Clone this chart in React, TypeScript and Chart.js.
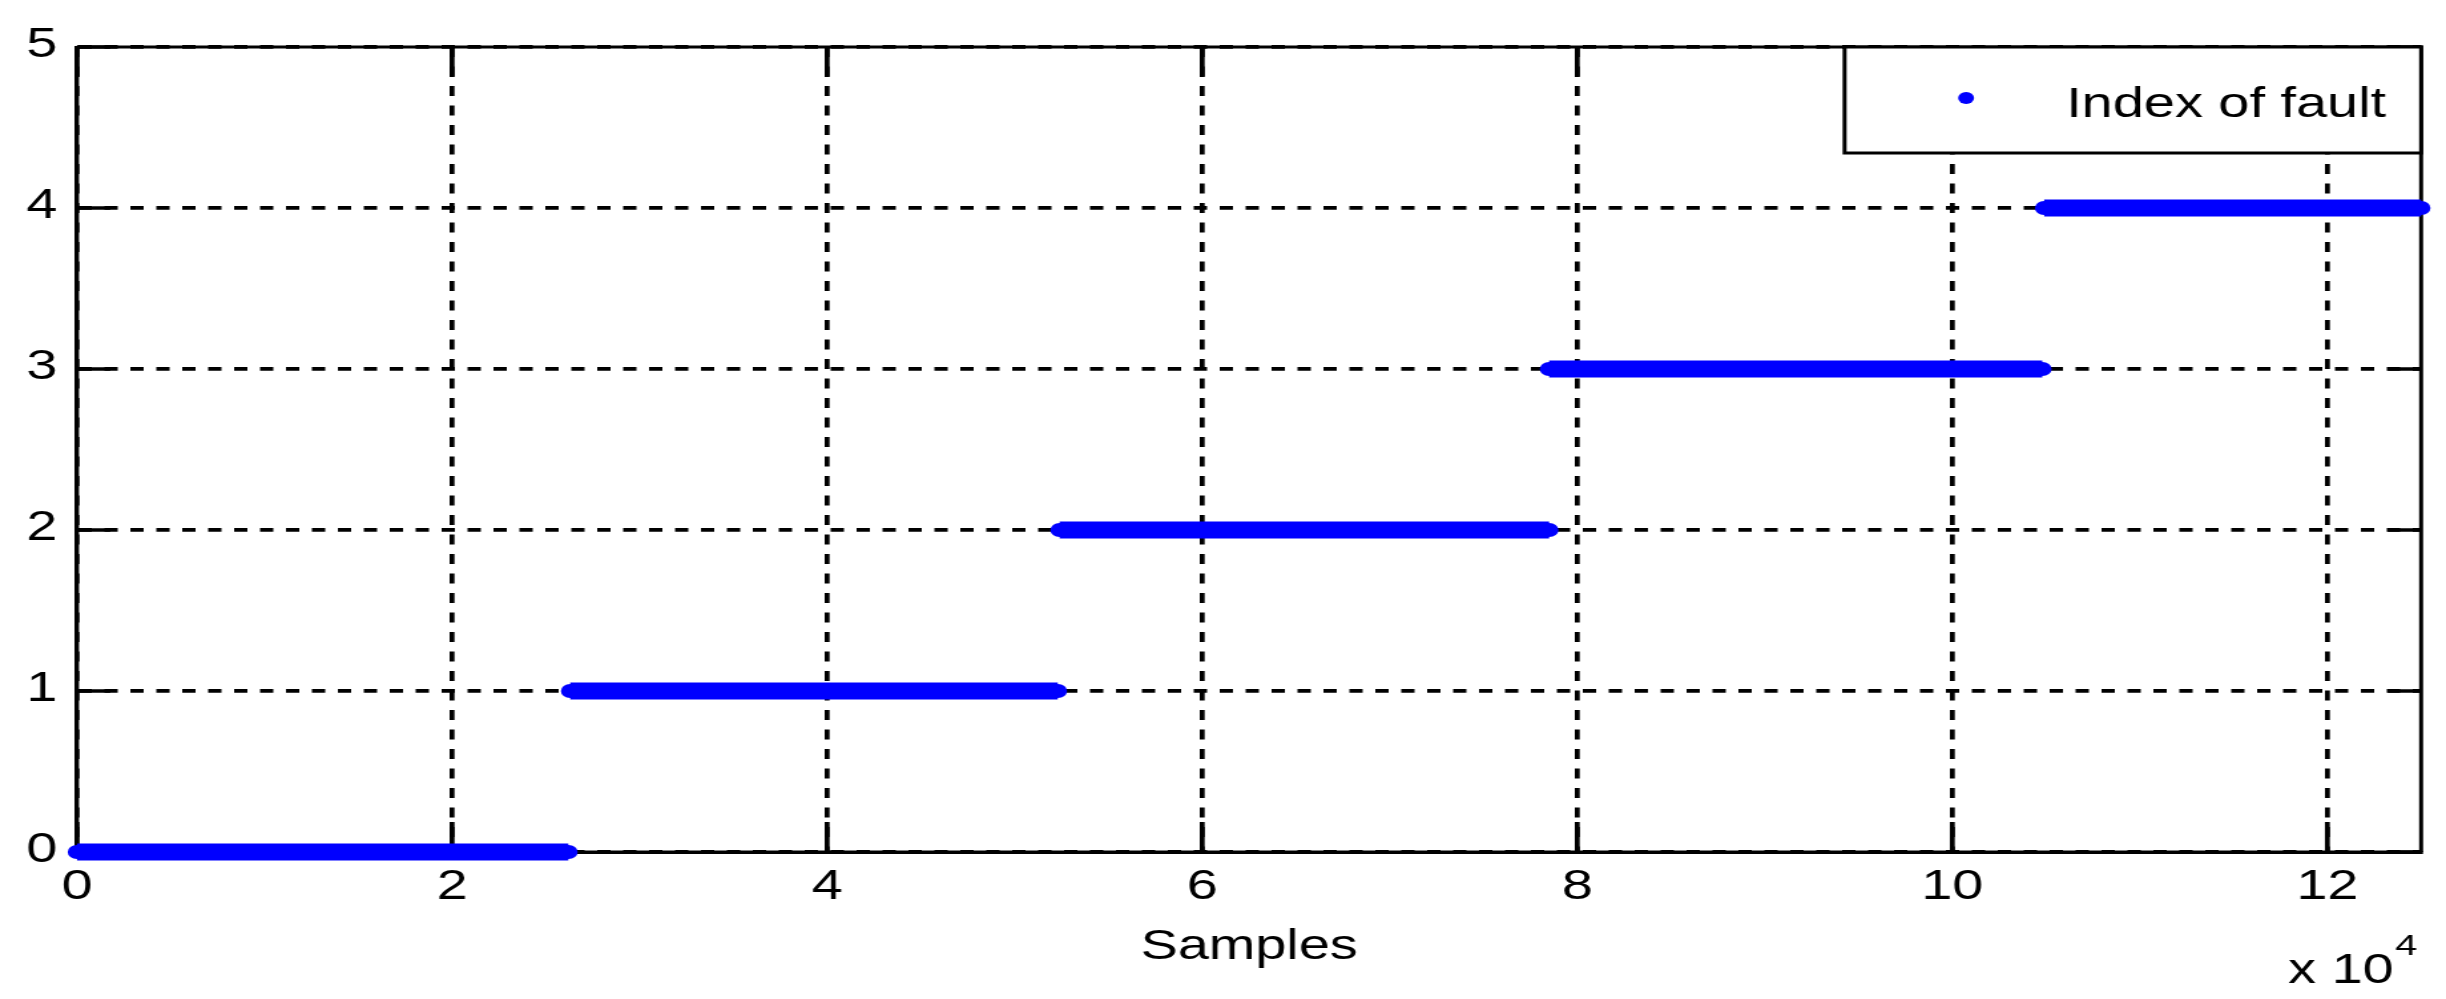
import React, { useEffect, useRef } from 'react';
import { Chart, registerables } from 'chart.js';

Chart.register(...registerables);

// ---- data ----
const faultLevels = [0, 1, 2, 3, 4];
const segmentStarts = [0, 26300, 52400, 78500, 104900];
const segmentEnds = [26200, 52300, 78500, 104800, 125000];
const xTickValues = [0, 20000, 40000, 60000, 80000, 100000, 120000];
const xTickLabels = ['0', '2', '4', '6', '8', '10', '12'];
const yTickValues = [0, 1, 2, 3, 4, 5];
const yTickLabels = ['0', '1', '2', '3', '4', '5'];
const seriesLabel = 'Index of fault';
const xTitle = 'Samples';
const xExponentBase = 'x 10';
const xExponent = '4';

// ---- geometry (canvas is drawn narrow and stretched horizontally, like the reference) ----
const FULL_W = 2446;
const FULL_H = 999;
const STRETCH = 1.33;
const W = Math.round(FULL_W / STRETCH);
const H = FULL_H;
const PLOT_LEFT = 77 / STRETCH;
const PLOT_RIGHT = 2421 / STRETCH;
const PLOT_TOP = 47;
const PLOT_BOTTOM = 852;
const FONT = '"Liberation Sans", Arial, Helvetica, sans-serif';
const BLUE = '#0000ff';
const DASH = [10, 9.5];

const framePlugin = {
  id: 'matlabFrame',
  beforeDatasetsDraw(chart: any) {
    const { ctx, chartArea: a, scales } = chart;
    ctx.save();
    ctx.strokeStyle = '#000';
    ctx.setLineDash([]);
    ctx.lineWidth = 3;
    ctx.beginPath();
    ctx.moveTo(a.left, a.top);
    ctx.lineTo(a.right, a.top);
    ctx.lineTo(a.right, a.bottom);
    ctx.stroke();
    // solid left / bottom axis lines (in case the border inherits the dash)
    ctx.beginPath();
    ctx.moveTo(a.left, a.top);
    ctx.lineTo(a.left, a.bottom);
    ctx.lineTo(a.right, a.bottom);
    ctx.stroke();
    ctx.lineWidth = 3.7;
    ctx.beginPath();
    for (const v of yTickValues) {
      const py = scales.y.getPixelForValue(v);
      ctx.moveTo(a.left, py);
      ctx.lineTo(a.left + 25, py);
      ctx.moveTo(a.right, py);
      ctx.lineTo(a.right - 25, py);
    }
    for (const v of xTickValues) {
      const px = scales.x.getPixelForValue(v);
      ctx.moveTo(px, a.bottom);
      ctx.lineTo(px, a.bottom - 30);
      ctx.moveTo(px, a.top);
      ctx.lineTo(px, a.top + 30);
    }
    ctx.stroke();
    ctx.restore();
  },
  afterDraw(chart: any) {
    const { ctx, chartArea: a } = chart;
    ctx.save();
    // legend box
    const lx = 1844.5 / STRETCH;
    const ly = a.top;
    const lb = 153;
    ctx.fillStyle = '#fff';
    ctx.fillRect(lx, ly, a.right - lx, lb - ly);
    ctx.strokeStyle = '#000';
    ctx.lineWidth = 3;
    ctx.setLineDash([]);
    ctx.strokeRect(lx, ly, a.right - lx, lb - ly);
    const ds = chart.data.datasets[0];
    ctx.fillStyle = ds.borderColor;
    ctx.beginPath();
    ctx.arc(1966 / STRETCH, 98, 6, 0, Math.PI * 2);
    ctx.fill();
    ctx.fillStyle = '#000';
    ctx.font = `42px ${FONT}`;
    ctx.textBaseline = 'alphabetic';
    ctx.textAlign = 'left';
    ctx.fillText(ds.label, 2066 / STRETCH, 117);
    // exponent label
    const ex = 2288 / STRETCH;
    ctx.fillText(xExponentBase, ex, 983);
    const wBase = ctx.measureText(xExponentBase).width;
    ctx.font = `30px ${FONT}`;
    ctx.fillText(xExponent, ex + wBase + 1, 955);
    ctx.restore();
  },
};

export default function App() {
  const ref = useRef<HTMLCanvasElement | null>(null);

  useEffect(() => {
    document.body.style.margin = '0';
    document.body.style.overflow = 'hidden';
    const canvas = ref.current;
    if (!canvas) return;

    const bandData: any[] = [];
    faultLevels.forEach((lvl, i) => {
      bandData.push({ x: segmentStarts[i], y: lvl });
      bandData.push({ x: segmentEnds[i], y: lvl });
      if (i < faultLevels.length - 1) bandData.push({ x: segmentEnds[i], y: null });
    });

    const gridCommon = {
      color: '#000',
      lineWidth: 3.7,
      borderDash: DASH,
      drawTicks: false,
    };
    const borderCommon = { display: true, color: '#000', width: 3, dash: DASH, dashOffset: 0 };

    const chart = new Chart(canvas, {
      type: 'line',
      data: {
        datasets: [
          {
            label: seriesLabel,
            data: bandData,
            borderColor: BLUE,
            backgroundColor: BLUE,
            borderWidth: 17,
            borderCapStyle: 'butt',
            tension: 0,
            spanGaps: false,
            fill: false,
            pointRadius: 7,
            pointHoverRadius: 7,
            pointBackgroundColor: BLUE,
            pointBorderWidth: 0,
            clip: false,
          } as any,
        ],
      },
      options: {
        responsive: false,
        animation: false,
        devicePixelRatio: 1,
        events: [],
        layout: { padding: { left: 0, right: W - PLOT_RIGHT, top: PLOT_TOP, bottom: 0 } },
        plugins: {
          legend: { display: false },
          tooltip: { enabled: false },
          title: { display: false },
        },
        scales: {
          x: {
            type: 'linear',
            min: 0,
            max: 125000,
            afterBuildTicks: (s: any) => {
              s.ticks = xTickValues.map((v) => ({ value: v }));
            },
            afterFit: (s: any) => {
              s.height = H - PLOT_BOTTOM;
            },
            grid: gridCommon as any,
            border: borderCommon as any,
            ticks: {
              padding: 10.5,
              color: '#000',
              font: { size: 42, family: FONT },
              maxRotation: 0,
              autoSkip: false,
              callback: (v: any) => xTickLabels[xTickValues.indexOf(Number(v))],
            },
            title: {
              display: true,
              text: xTitle,
              color: '#000',
              font: { size: 42, family: FONT },
              padding: { top: 0, bottom: 26 },
            },
          },
          y: {
            type: 'linear',
            min: 0,
            max: 5,
            afterBuildTicks: (s: any) => {
              s.ticks = yTickValues.map((v) => ({ value: v }));
            },
            afterFit: (s: any) => {
              s.width = PLOT_LEFT;
            },
            grid: gridCommon as any,
            border: borderCommon as any,
            ticks: {
              padding: 14.8,
              labelOffset: -2,
              color: '#000',
              font: { size: 42, family: FONT },
              autoSkip: false,
              callback: (v: any) => yTickLabels[yTickValues.indexOf(Number(v))],
            },
          },
        },
      } as any,
      plugins: [framePlugin],
    });

    return () => chart.destroy();
  }, []);

  return (
    <canvas
      ref={ref}
      width={W}
      height={H}
      style={{ width: FULL_W + 'px', height: FULL_H + 'px', display: 'block' }}
    />
  );
}
